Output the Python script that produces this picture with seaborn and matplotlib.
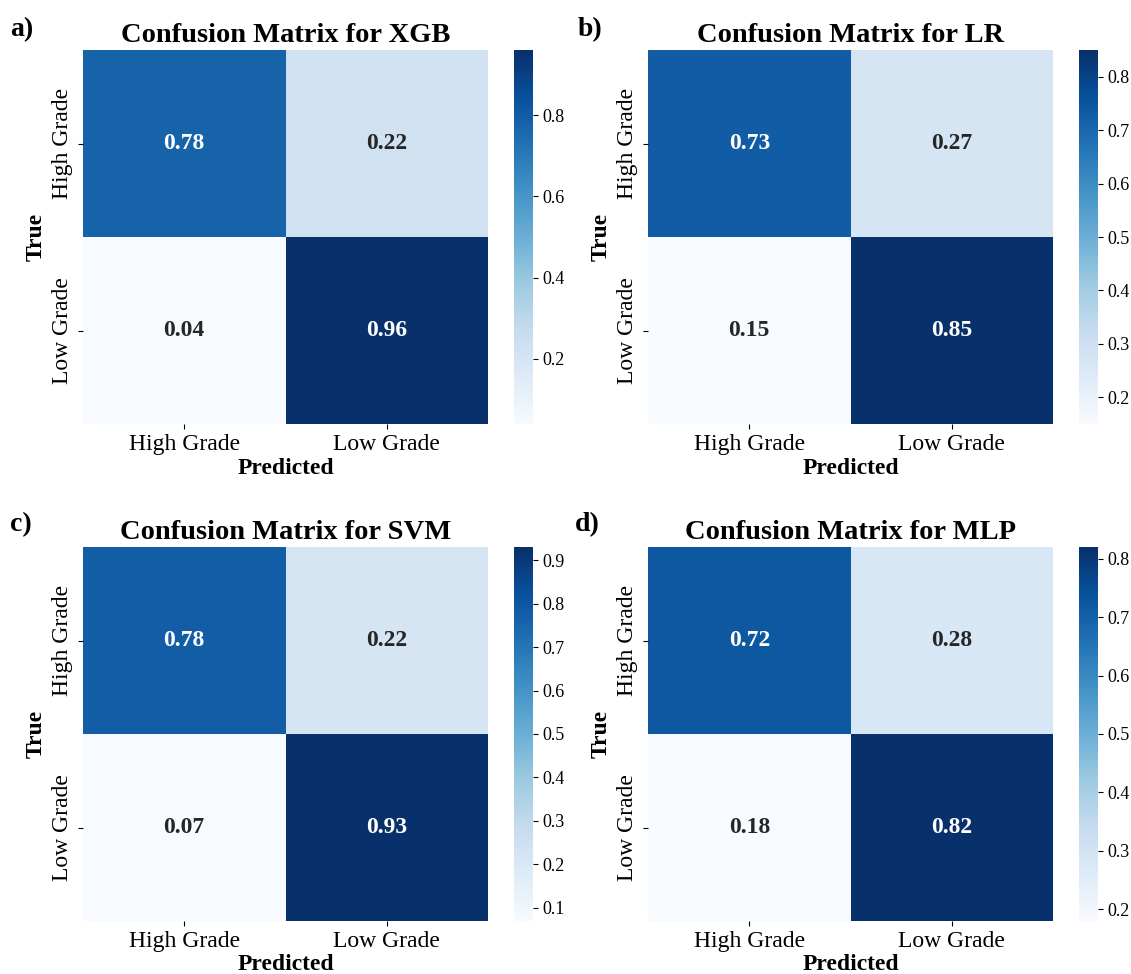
import numpy as np
import matplotlib
matplotlib.use("Agg")
import matplotlib.pyplot as plt
import seaborn as sns

plt.rcParams['font.family'] = ['Liberation Serif', 'DejaVu Serif']

class_labels = ["High Grade", "Low Grade"]
models = ["XGB", "LR", "SVM", "MLP"]
panel_tags = ["a)", "b)", "c)", "d)"]

cm_xgb = [[0.78, 0.22], [0.04, 0.96]]
cm_lr = [[0.73, 0.27], [0.15, 0.85]]
cm_svm = [[0.78, 0.22], [0.07, 0.93]]
cm_mlp = [[0.72, 0.28], [0.18, 0.82]]
matrices = [cm_xgb, cm_lr, cm_svm, cm_mlp]

W, H = 1131, 974
fig = plt.figure(figsize=(W / 100, H / 100), dpi=100)

# pixel layout: (heatmap left, heatmap top)
lefts = [83, 648, 83, 648]
tops = [50, 50, 547, 547]
hm_w, hm_h = 405, 374
gap, cb_w = 26, 19
tag_pos = [(10, 30), (578, 30), (10, 525), (575, 525)]

for i, (cm, name) in enumerate(zip(matrices, models)):
    l, t = lefts[i], tops[i]
    ax = fig.add_axes([l / W, 1 - (t + hm_h) / H, hm_w / W, hm_h / H])
    cax = fig.add_axes([(l + hm_w + gap) / W, 1 - (t + hm_h) / H, cb_w / W, hm_h / H])
    sns.heatmap(np.array(cm), annot=True, fmt=".2f", cmap="Blues", ax=ax, cbar_ax=cax,
                xticklabels=class_labels, yticklabels=class_labels,
                annot_kws={"fontsize": 17, "fontweight": "bold"})
    ax.set_title(f"Confusion Matrix for {name}", fontsize=20.5, fontweight="bold")
    ax.set_xlabel("Predicted", fontsize=17, fontweight="bold", labelpad=2)
    ax.set_ylabel("True", fontsize=17, fontweight="bold")
    ax.tick_params(axis="both", labelsize=17)
    for lab in ax.get_yticklabels():
        lab.set_rotation(90)
        lab.set_va("center")
    cax.tick_params(labelsize=13)
    tx, ty = tag_pos[i]
    fig.text(tx / W, 1 - ty / H, panel_tags[i], fontsize=20, fontweight="bold",
             ha="left", va="center")

fig.savefig("out.png", dpi=100)
